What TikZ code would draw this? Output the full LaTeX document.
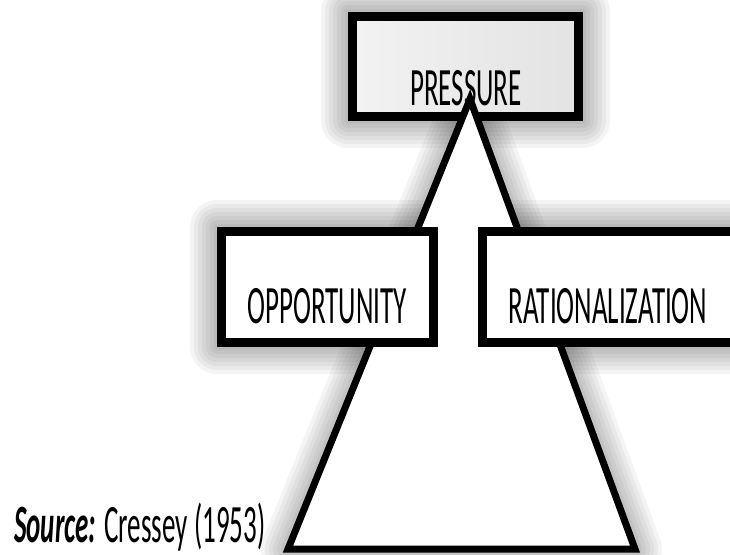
\documentclass[tikz,border=0pt]{standalone}
\usepackage{fontspec}
\setmainfont{Carlito}[FakeStretch=0.5]

\pgfdeclarelayer{bg}
\pgfsetlayers{bg,main}

% soft grey shade under a closed path
\newcommand\haze[1]{%
  \foreach \w in {54,46,...,6}{%
    \path[fill=black, draw=black, fill opacity=0.035, draw opacity=0.045,
      line width=\w pt, line join=round, shift={(8,18)}] #1;}}

\begin{document}
\begin{tikzpicture}[x=1pt,y=-1pt,
    box/.style={rectangle, draw=black, line width=9pt, fill=white, inner sep=0pt},
    word/.style={font=\fontsize{54}{60}\selectfont, inner sep=0pt, anchor=base}]
  \path[use as bounding box] (0,0) rectangle (730,554);
  \clip (0,0) rectangle (730,554);

  % top box
  \node[box, left color=black!5, right color=black!11,
    minimum width=226pt, minimum height=100pt] (pressbox) at (465.5,66) {};
  \node[word] (press) at (466,105) {PRESSURE};

  % the triangle
  \coordinate (apex) at (470,99);
  \coordinate (baseL) at (288,549);
  \coordinate (baseR) at (635,549);
  \draw[line width=7pt, line join=miter, fill=white]
    (apex) -- (baseR) -- (baseL) -- cycle;

  % the two side boxes
  \node[box, minimum width=212pt, minimum height=111pt]
    (oppbox) at (327.5,287) {};
  \node[word] (opp) at (327,323) {OPPORTUNITY};
  \node[box, minimum width=258pt, minimum height=111pt]
    (ratbox) at (611.5,287) {};
  \node[word] (rat) at (608,323) {RATIONALIZATION};

  \node[word, anchor=base west] (src) at (14,542)
    {\textbf{\textit{Source:}} Cressey (1953)};

  % shades go behind everything
  \begin{pgfonlayer}{bg}
    \haze{(pressbox.north west) rectangle (pressbox.south east)}
    \haze{(apex) -- (baseR) -- (baseL) -- cycle}
    \haze{(oppbox.north west) rectangle (oppbox.south east)}
    \haze{(ratbox.north west) rectangle (ratbox.south east)}
  \end{pgfonlayer}
\end{tikzpicture}
\end{document}
